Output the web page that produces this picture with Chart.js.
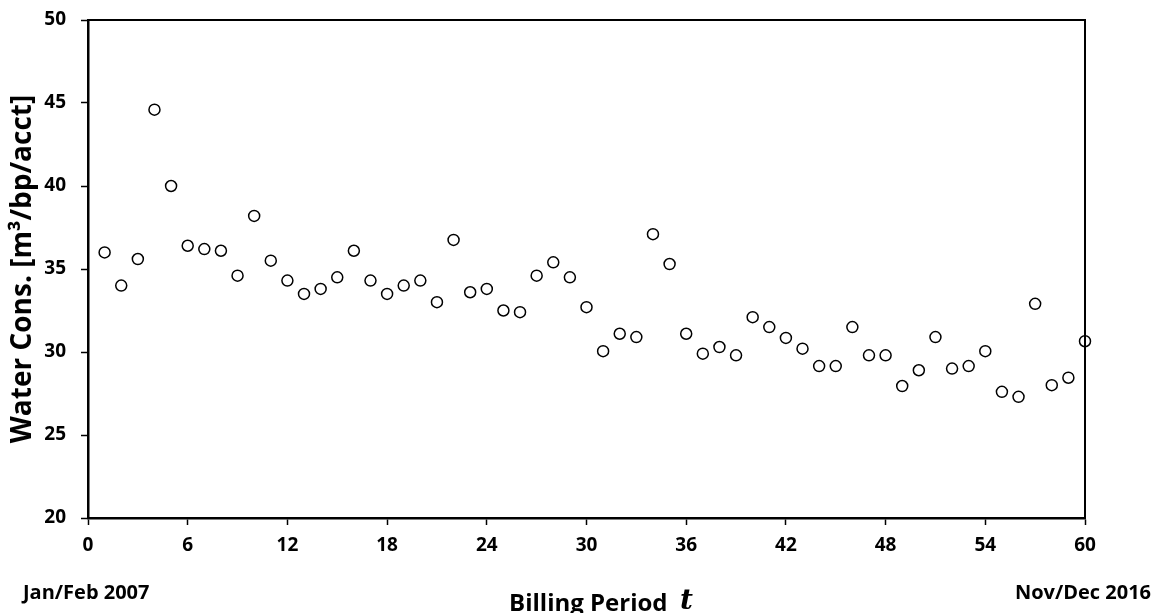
<!DOCTYPE html>
<html lang="en">
<head>
    <meta charset="utf-8">
    <title>Water Consumption</title>
    <script src="https://cdn.jsdelivr.net/npm/chart.js@4.4.1/dist/chart.umd.min.js"></script>
    <style>
        html, body { margin: 0; padding: 0; background: #fff; }
        #wrap { width: 1158px; height: 613px; }
    </style>
</head>
<body>
<div id="wrap"><canvas id="graph"></canvas></div>

<script>
    // Data
    var periods = [];
    for (var i = 1; i <= 60; i++) periods.push(i);
    var consumption = [
        36.0, 34.0, 35.6, 44.6, 40.0, 36.4, 36.2, 36.1, 34.6, 38.2,
        35.5, 34.3, 33.5, 33.8, 34.5, 36.1, 34.3, 33.5, 34.0, 34.3,
        33.0, 36.75, 33.6, 33.8, 32.5, 32.4, 34.6, 35.4, 34.5, 32.7,
        30.05, 31.1, 30.9, 37.1, 35.3, 31.1, 29.9, 30.3, 29.8, 32.1,
        31.5, 30.85, 30.2, 29.15, 29.15, 31.5, 29.8, 29.8, 27.95, 28.9,
        30.9, 29.0, 29.15, 30.05, 27.6, 27.3, 32.9, 28.0, 28.45, 30.65
    ];
    var xTicks = [0, 6, 12, 18, 24, 30, 36, 42, 48, 54, 60];
    var yTicks = [20, 25, 30, 35, 40, 45, 50];

    var FONT = "'Open Sans', sans-serif";

    var points = periods.map(function(p, i) { return { x: p, y: consumption[i] }; });

    // box round the plot + the labels under the x axis
    var extras = {
        id: 'extras',
        afterDraw: function(chart) {
            var ctx = chart.ctx, a = chart.chartArea;
            ctx.save();
            ctx.strokeStyle = '#000';
            ctx.lineWidth = 2;
            ctx.strokeRect(a.left, a.top, a.right - a.left, a.bottom - a.top);

            ctx.fillStyle = '#000';
            ctx.textBaseline = 'middle';
            ctx.font = "bold 20px " + FONT;
            ctx.textAlign = 'left';
            ctx.fillText('Jan/Feb 2007', 23, 593);
            ctx.textAlign = 'right';
            ctx.fillText('Nov/Dec 2016', 1151, 593);

            ctx.textBaseline = 'alphabetic';
            ctx.font = "bold 24px " + FONT;
            var label = 'Billing Period  ';
            var w1 = ctx.measureText(label).width;
            ctx.font = "italic bold 28px 'DejaVu Serif', serif";
            var w2 = ctx.measureText('t').width;
            var x0 = 601 - (w1 + w2) / 2;
            ctx.textAlign = 'left';
            ctx.font = "bold 24px " + FONT;
            ctx.fillText(label, x0, 611);
            ctx.font = "italic bold 28px 'DejaVu Serif', serif";
            ctx.fillText('t', x0 + w1, 609);
            ctx.restore();
        }
    };

    new Chart(document.getElementById('graph'), {
        type: 'scatter',
        data: {
            datasets: [{
                data: points,
                clip: false,
                pointStyle: 'circle',
                pointRadius: 5.5,
                pointBorderWidth: 1.5,
                pointBorderColor: '#000',
                pointBackgroundColor: '#fff'
            }]
        },
        options: {
            responsive: true,
            maintainAspectRatio: false,
            animation: false,
            layout: { padding: { top: 20, right: 73, left: 0, bottom: 0 } },
            plugins: {
                legend: { display: false },
                tooltip: { enabled: false }
            },
            scales: {
                x: {
                    type: 'linear',
                    min: 0, max: 60,
                    afterBuildTicks: function(s) { s.ticks = xTicks.map(function(v) { return { value: v }; }); },
                    afterFit: function(s) { s.height = 95; s.paddingLeft = 0; s.paddingRight = 0; },
                    grid: { drawOnChartArea: false, tickLength: 7, tickColor: '#000', tickWidth: 1.5 },
                    border: { color: '#000', width: 2.5 },
                    ticks: { color: '#000', padding: 9, maxRotation: 0, font: { family: FONT, size: 19, weight: 'bold' } }
                },
                y: {
                    min: 20, max: 50,
                    afterBuildTicks: function(s) { s.ticks = yTicks.map(function(v) { return { value: v }; }); },
                    afterFit: function(s) { s.width = 88; s.paddingTop = 0; s.paddingBottom = 0; },
                    grid: { drawOnChartArea: false, tickLength: 7, tickColor: '#000', tickWidth: 1.5 },
                    border: { color: '#000', width: 2.5 },
                    title: {
                        display: true,
                        text: 'Water Cons. [m\u00b3/bp/acct]',
                        color: '#000',
                        padding: { top: 6, bottom: 0 },
                        font: { family: FONT, size: 28, weight: 'bold' }
                    },
                    ticks: { color: '#000', padding: 15, font: { family: FONT, size: 19, weight: 'bold' } }
                }
            }
        },
        plugins: [extras]
    });
</script>
</body>
</html>
